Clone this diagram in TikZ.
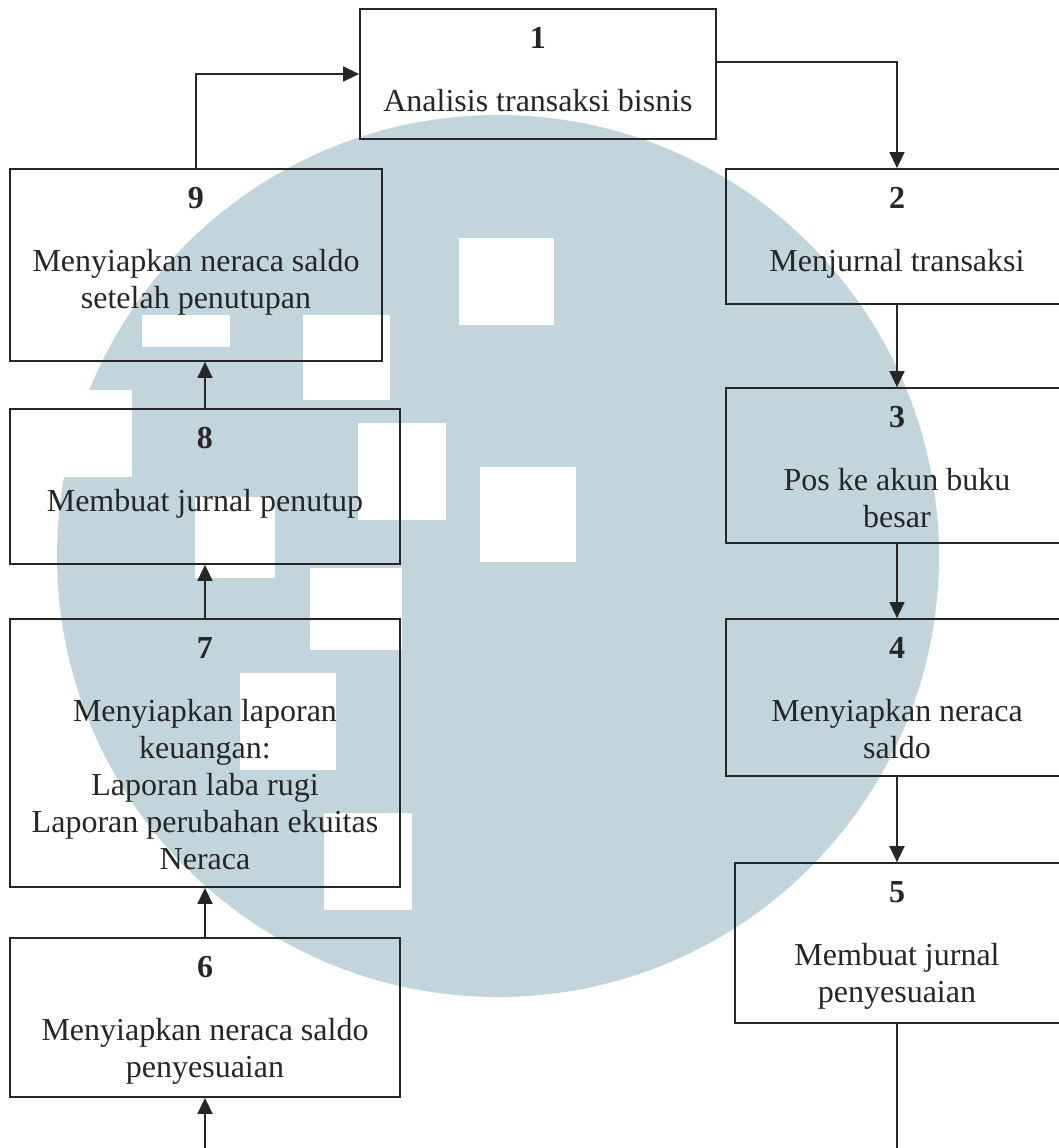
\documentclass[tikz,border=0pt]{standalone}
\usepackage{xcolor}
\usepackage{fontspec}
\setmainfont{Liberation Serif}
\usepackage{tikz}
\usetikzlibrary{positioning,arrows.meta}

\definecolor{wmark}{HTML}{C3D5DC}
\definecolor{ink}{HTML}{262626}

\tikzset{
  stepbox/.style={draw=ink, line width=0.9pt, inner sep=0pt},
  steptext/.style={align=center, inner sep=0pt, text=ink,
    font=\fontsize{16pt}{18.5pt}\selectfont},
  flow/.style={draw=ink, line width=0.8pt, -{Triangle[length=8pt,width=7.5pt]}},
  plain/.style={draw=ink, line width=0.8pt}
}

\begin{document}
\begin{tikzpicture}[x=0.5pt, y=-0.5pt]
			\useasboundingbox (0,0) rectangle (1059,1148);

			% watermark
			\fill[wmark] (498,556) circle [radius=441];
			\fill[white] (459,238) rectangle (554,325);
			\fill[white] (480,467) rectangle (576,562);
			\fill[white] (303,315) rectangle (390,400);
			\fill[white] (358,423) rectangle (446,520);
			\fill[white] (195,497) rectangle (275,578);
			\fill[white] (310,568) rectangle (402,650);
			\fill[white] (240,673) rectangle (336,770);
			\fill[white] (324,813) rectangle (412,910);
			\fill[white] (142,315) rectangle (230,347);
			\fill[white] (60,390) rectangle (132,477);

			% right column
			\node[stepbox, minimum width=178pt, minimum height=65pt] (s1) at (538,74) {};
			\node[steptext, below=9.5pt of s1.north] (t1) {\textbf{1}\\[13pt]Analisis transaksi bisnis};

			\node[stepbox, minimum width=171pt, minimum height=67.5pt] (s2) at (897,236.5) {};
			\node[steptext, below=9.5pt of s2.north] (t2) {\textbf{2}\\[13pt]Menjurnal transaksi};

			\node[stepbox, minimum width=171pt, minimum height=77.5pt] (s3) at (897,465.5) {};
			\node[steptext, below=9.5pt of s3.north] (t3) {\textbf{3}\\[13pt]Pos ke akun buku\\besar};

			\node[stepbox, minimum width=171pt, minimum height=78.5pt] (s4) at (897,697.5) {};
			\node[steptext, below=9.5pt of s4.north] (t4) {\textbf{4}\\[13pt]Menyiapkan neraca\\saldo};

			\node[stepbox, minimum width=166pt, minimum height=80pt] (s5) at (901,943) {};
			\node[steptext, below=9.5pt of s5.north, xshift=-2pt] (t5) {\textbf{5}\\[13pt]Membuat jurnal\\penyesuaian};

			% left column
			\node[stepbox, minimum width=195pt, minimum height=79.5pt] (s6) at (205,1017.5) {};
			\node[steptext, below=9.5pt of s6.north] (t6) {\textbf{6}\\[13pt]Menyiapkan neraca saldo\\penyesuaian};

			\node[stepbox, minimum width=195pt, minimum height=134pt] (s7) at (205,753) {};
			\node[steptext, below=9.5pt of s7.north] (t7) {\textbf{7}\\[13pt]Menyiapkan laporan\\keuangan:\\Laporan laba rugi\\Laporan perubahan ekuitas\\Neraca};

			\node[stepbox, minimum width=195pt, minimum height=77.5pt] (s8) at (205,486.5) {};
			\node[steptext, below=9.5pt of s8.north] (t8) {\textbf{8}\\[13pt]Membuat jurnal penutup};

			\node[stepbox, minimum width=186pt, minimum height=96pt] (s9) at (196,265) {};
			\node[steptext, below=9.5pt of s9.north] (t9) {\textbf{9}\\[13pt]Menyiapkan neraca saldo\\setelah penutupan};

			% free ends at the bottom edge
			\coordinate (outR) at (897,1170);
			\coordinate (inL) at (205,1170);

			% connectors
			\draw[flow] (s9.north) |- (s1.west);
			\draw[flow] ([yshift=6pt]s1.east) -| (s2.north);
			\draw[flow] (s2) -- (s3);
			\draw[flow] (s3) -- (s4);
			\draw[flow] (s4.south) -- (s4.south |- s5.north);
			\draw[plain] (outR |- s5.south) -- (outR);
			\draw[flow] (inL) -- (s6);
			\draw[flow] (s6) -- (s7);
			\draw[flow] (s7) -- (s8);
			\draw[flow] (s8.north) -- (s8.north |- s9.south);
		\end{tikzpicture}
\end{document}
